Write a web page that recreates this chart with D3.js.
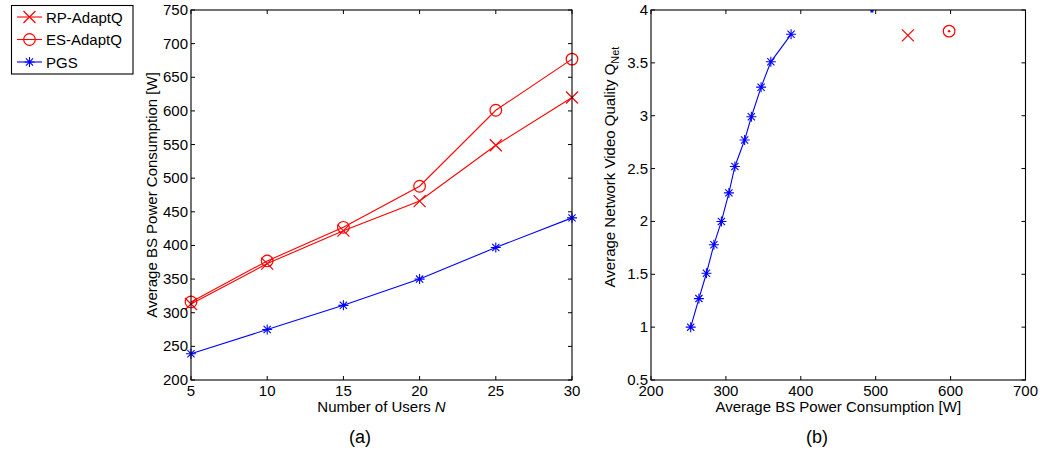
<!DOCTYPE html>
<html><head><meta charset="utf-8">
<script src="https://cdn.jsdelivr.net/npm/d3@7"></script>
<style>body{margin:0;background:#fff;} text{font-family:"Liberation Sans",Arial,sans-serif;}</style>
</head><body>
<svg id="c" width="1043" height="450"></svg>
<script>
// Panel (a)
const usersN = [5, 10, 15, 20, 25, 30];
const rpPower = [313, 373, 422, 466, 549, 620];
const esPower = [316, 377, 427, 488, 601, 677];
const pgsPower = [239, 275, 311, 350, 397, 441];
const aXTicks = [5, 10, 15, 20, 25, 30];
const aYTicks = [200, 250, 300, 350, 400, 450, 500, 550, 600, 650, 700, 750];
// Panel (b)
const pgsCurveP = [253, 264, 274, 284, 294, 304, 312, 325, 334, 347, 360, 387];
const pgsCurveQ = [1.00, 1.27, 1.51, 1.78, 2.00, 2.27, 2.52, 2.77, 2.99, 3.27, 3.51, 3.77];
const rpPointB = [[543, 3.76]];
const esPointB = [[598, 3.80]];
const pgsClippedB = [[495, 4.0]];
const bXTicks = [200, 300, 400, 500, 600, 700];
const bYTicks = [0.5, 1, 1.5, 2, 2.5, 3, 3.5, 4];

const RED = "#ff0000", BLUE = "#0000ff";
const svg = d3.select("#c");
const FS = 15;

function drawMarker(g, type, x, y, color) {
  if (type === "x") {
    const s = 6;
    g.append("path").attr("d", `M${x-s},${y-s}L${x+s},${y+s}M${x-s},${y+s}L${x+s},${y-s}`)
      .attr("stroke", color).attr("stroke-width", 1.2).attr("fill", "none");
  } else if (type === "o") {
    g.append("circle").attr("cx", x).attr("cy", y).attr("r", 5.8)
      .attr("stroke", color).attr("stroke-width", 1.2).attr("fill", "none");
  } else if (type === "od") {
    g.append("circle").attr("cx", x).attr("cy", y).attr("r", 5.8)
      .attr("stroke", color).attr("stroke-width", 1.2).attr("fill", "none");
    g.append("circle").attr("cx", x).attr("cy", y).attr("r", 1.2).attr("fill", color);
  } else if (type === "*") {
    const s = 5, d = 3.6;
    g.append("path").attr("d", `M${x-s},${y}L${x+s},${y}M${x},${y-s}L${x},${y+s}M${x-d},${y-d}L${x+d},${y+d}M${x-d},${y+d}L${x+d},${y-d}`)
      .attr("stroke", color).attr("stroke-width", 1.1).attr("fill", "none");
  } else if (type === "dot") {
    g.append("rect").attr("x", x-1.5).attr("y", y).attr("width", 3).attr("height", 2.5).attr("fill", color);
  }
}

function frame(x, y, L, R, T, B, xTicks, yTicks, xFmt, yFmt) {
  const g = svg.append("g");
  const tl = 4;
  xTicks.forEach(t => {
    const px = x(t);
    g.append("line").attr("x1", px).attr("x2", px).attr("y1", B).attr("y2", B - tl).attr("stroke", "#000");
    g.append("line").attr("x1", px).attr("x2", px).attr("y1", T).attr("y2", T + tl).attr("stroke", "#000");
    g.append("text").attr("x", px).attr("y", B + 16).attr("text-anchor", "middle")
      .attr("font-size", FS).attr("fill", "#000").text(xFmt(t));
  });
  yTicks.forEach(t => {
    const py = y(t);
    g.append("line").attr("x1", L).attr("x2", L + tl).attr("y1", py).attr("y2", py).attr("stroke", "#000");
    g.append("line").attr("x1", R).attr("x2", R - tl).attr("y1", py).attr("y2", py).attr("stroke", "#000");
    g.append("text").attr("x", L - 3).attr("y", py + 5).attr("text-anchor", "end")
      .attr("font-size", FS).attr("fill", "#000").text(yFmt(t));
  });
  g.append("rect").attr("x", L).attr("y", T).attr("width", R - L).attr("height", B - T)
    .attr("fill", "none").attr("stroke", "#000").attr("stroke-width", 1.1);
  return g;
}

// ---------- Panel (a) ----------
{
  const L = 191, R = 572, T = 10, B = 380;
  const x = d3.scaleLinear().domain([5, 30]).range([L, R]);
  const y = d3.scaleLinear().domain([200, 750]).range([B, T]);
  const g = svg.append("g");
  const line = d3.line().x(d => x(d[0])).y(d => y(d[1]));
  const series = [
    {v: rpPower, c: RED, m: "x"},
    {v: esPower, c: RED, m: "o"},
    {v: pgsPower, c: BLUE, m: "*"}
  ];
  series.forEach(s => {
    const pts = usersN.map((n, i) => [n, s.v[i]]);
    g.append("path").attr("d", line(pts)).attr("stroke", s.c).attr("stroke-width", 1.1).attr("fill", "none");
    pts.forEach(p => drawMarker(g, s.m, x(p[0]), y(p[1]), s.c));
  });
  frame(x, y, L, R, T, B, aXTicks, aYTicks, d => d, d => d);
  const lbl = svg.append("text").attr("x", (L + R) / 2).attr("y", 412).attr("text-anchor", "middle").attr("font-size", FS);
  lbl.append("tspan").text("Number of Users ");
  lbl.append("tspan").attr("font-style", "italic").text("N");
  svg.append("text").attr("transform", `translate(157,${(T + B) / 2}) rotate(-90)`)
    .attr("text-anchor", "middle").attr("font-size", FS).text("Average BS Power Consumption [W]");
  svg.append("text").attr("x", 360).attr("y", 443).attr("text-anchor", "middle").attr("font-size", 18).text("(a)");
}

// ---------- Panel (b) ----------
{
  const L = 651, R = 1025.5, T = 10, B = 380;
  const x = d3.scaleLinear().domain([200, 700]).range([L, R]);
  const y = d3.scaleLinear().domain([0.5, 4]).range([B, T]);
  const g = svg.append("g");
  const pts = pgsCurveP.map((p, i) => [p, pgsCurveQ[i]]);
  const line = d3.line().x(d => x(d[0])).y(d => y(d[1]));
  g.append("path").attr("d", line(pts)).attr("stroke", BLUE).attr("stroke-width", 1.1).attr("fill", "none");
  pts.forEach(p => drawMarker(g, "*", x(p[0]), y(p[1]), BLUE));
  rpPointB.forEach(p => drawMarker(g, "x", x(p[0]), y(p[1]), RED));
  esPointB.forEach(p => drawMarker(g, "od", x(p[0]), y(p[1]), RED));
  pgsClippedB.forEach(p => drawMarker(g, "dot", x(p[0]), y(p[1]), BLUE));
  frame(x, y, L, R, T, B, bXTicks, bYTicks, d => d, d => d);
  svg.append("text").attr("x", (L + R) / 2).attr("y", 412).attr("text-anchor", "middle").attr("font-size", FS)
    .text("Average BS Power Consumption [W]");
  const yl = svg.append("text").attr("transform", `translate(615,${(T + B) / 2 - 28}) rotate(-90)`)
    .attr("text-anchor", "middle").attr("font-size", FS);
  yl.append("tspan").text("Average Network Video Quality Q");
  yl.append("tspan").attr("font-size", 11).attr("dy", 4).text("Net");
  svg.append("text").attr("x", 817).attr("y", 443).attr("text-anchor", "middle").attr("font-size", 18).text("(b)");
}

// ---------- Legend ----------
{
  const g = svg.append("g");
  g.append("rect").attr("x", 11.5).attr("y", 5.5).attr("width", 121.5).attr("height", 68.5)
    .attr("fill", "#fff").attr("stroke", "#000").attr("stroke-width", 1.1);
  const items = [
    {name: "RP-AdaptQ", c: RED, m: "x"},
    {name: "ES-AdaptQ", c: RED, m: "o"},
    {name: "PGS", c: BLUE, m: "*"}
  ];
  items.forEach((it, i) => {
    const cy = 17 + i * 22.5;
    g.append("line").attr("x1", 17).attr("x2", 42).attr("y1", cy).attr("y2", cy).attr("stroke", it.c).attr("stroke-width", 1.1);
    drawMarker(g, it.m, 29.5, cy, it.c);
    g.append("text").attr("x", 46).attr("y", cy + 5.5).attr("font-size", FS).text(it.name);
  });
}
</script>
</body></html>
